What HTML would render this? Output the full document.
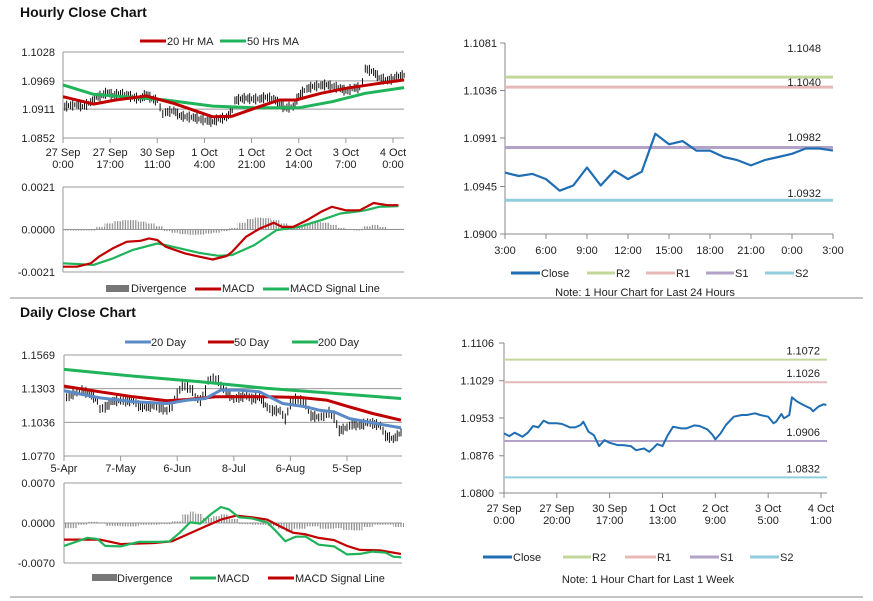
<!DOCTYPE html>
<html><head><meta charset="utf-8"><style>
html,body{margin:0;padding:0;background:#fff;}
svg{display:block;font-family:"Liberation Sans",sans-serif;}
text{font-size:11px;fill:#222;}
.t{font-size:14px;font-weight:bold;fill:#111;}
</style></head><body>
<svg id="s" width="873" height="601" viewBox="0 0 873 601">
<defs><pattern id="stripe" width="2.6" height="4" patternUnits="userSpaceOnUse"><rect x="0" y="0" width="1.2" height="4" fill="#8a8a8a"/></pattern></defs>
<text class="t" x="20" y="17">Hourly Close Chart</text>
<text class="t" x="20" y="317">Daily Close Chart</text>
<line x1="10" y1="298" x2="863" y2="298" stroke="#888" stroke-width="1"/>
<line x1="10" y1="597" x2="863" y2="597" stroke="#888" stroke-width="1"/>
<g>
<line x1="140" y1="41" x2="166" y2="41" stroke="#c00000" stroke-width="3"/><text x="167" y="45">20 Hr MA</text>
<line x1="220" y1="41" x2="246" y2="41" stroke="#1fb35a" stroke-width="3"/><text x="247" y="45">50 Hrs MA</text></g>
<g>
<rect x="106" y="285" width="23" height="7" fill="#777"/><text x="131" y="292">Divergence</text>
<line x1="195" y1="289" x2="221" y2="289" stroke="#c00000" stroke-width="3"/><text x="222" y="292">MACD</text>
<line x1="263" y1="289" x2="289" y2="289" stroke="#1fb35a" stroke-width="3"/><text x="290" y="292">MACD Signal Line</text></g>
<g>
<line x1="125" y1="342" x2="151" y2="342" stroke="#5b8ac6" stroke-width="3"/><text x="151" y="346">20 Day</text>
<line x1="208" y1="342" x2="234" y2="342" stroke="#c00000" stroke-width="3"/><text x="234" y="346">50 Day</text>
<line x1="292" y1="342" x2="318" y2="342" stroke="#1fb35a" stroke-width="3"/><text x="318" y="346">200 Day</text></g>
<g>
<rect x="92" y="574" width="25" height="7" fill="#777"/><text x="117" y="582">Divergence</text>
<line x1="190" y1="578" x2="216" y2="578" stroke="#1fb35a" stroke-width="3"/><text x="217" y="582">MACD</text>
<line x1="268" y1="578" x2="294" y2="578" stroke="#c00000" stroke-width="3"/><text x="295" y="582">MACD Signal Line</text></g>
<g>
<line x1="511" y1="273" x2="540" y2="273" stroke="#1f6db3" stroke-width="3"/><text x="541" y="277">Close</text>
<line x1="587" y1="273" x2="615" y2="273" stroke="#c4d79b" stroke-width="3"/><text x="616" y="277">R2</text>
<line x1="646" y1="273" x2="675" y2="273" stroke="#e6b9b8" stroke-width="3"/><text x="676" y="277">R1</text>
<line x1="706" y1="273" x2="734" y2="273" stroke="#b3a2c7" stroke-width="3"/><text x="735" y="277">S1</text>
<line x1="765" y1="273" x2="794" y2="273" stroke="#93cddd" stroke-width="3"/><text x="795" y="277">S2</text>
<text x="645" y="296" text-anchor="middle">Note: 1 Hour Chart for Last 24 Hours</text></g>
<g>
<line x1="483" y1="557" x2="512" y2="557" stroke="#1f6db3" stroke-width="3"/><text x="513" y="561">Close</text>
<line x1="563" y1="557" x2="591" y2="557" stroke="#c4d79b" stroke-width="3"/><text x="592" y="561">R2</text>
<line x1="625" y1="557" x2="656" y2="557" stroke="#e6b9b8" stroke-width="3"/><text x="657" y="561">R1</text>
<line x1="690" y1="557" x2="719" y2="557" stroke="#b3a2c7" stroke-width="3"/><text x="720" y="561">S1</text>
<line x1="750" y1="557" x2="779" y2="557" stroke="#93cddd" stroke-width="3"/><text x="780" y="561">S2</text>
<text x="648" y="583" text-anchor="middle">Note: 1 Hour Chart for Last 1 Week</text></g>
</svg>
<script>
// ---------- Hourly (top-left) ----------
const hrCloseHours = [0,2,5,7,10,12,14,16,18,20,23,25,28,30,32,34,35,36,37,40,42,44,47,49,52,54,56,59,61,62,64,66,68,71,73,76,78,80,83,85,87,88,90,93,95,97,100,102,105,107,108,109,112,114,117,119,121,123];
const hrClose = [1.09159,1.09194,1.09214,1.09173,1.09263,1.09366,1.0940,1.09469,1.0940,1.09434,1.09414,1.09366,1.09331,1.09434,1.09331,1.09297,1.09159,1.09022,1.09056,1.09091,1.08988,1.08967,1.08953,1.08919,1.08884,1.08864,1.08919,1.08953,1.09091,1.09297,1.09331,1.09345,1.09331,1.09331,1.09366,1.09331,1.09228,1.09146,1.09173,1.0940,1.09503,1.09538,1.09586,1.09606,1.0962,1.09586,1.09551,1.09489,1.09558,1.09558,1.09675,1.0995,1.09881,1.09764,1.09709,1.09744,1.09792,1.09813];
const hrMa20Hours = [0,11,19,30,40,54,61,69,78,84,93,102,112,123];
const hrMa20 = [1.09366,1.09214,1.09297,1.09379,1.09228,1.08953,1.08967,1.09125,1.09297,1.09297,1.09434,1.09538,1.0962,1.09709];
const hrMa50Hours = [0,11,25,37,54,69,85,97,109,123];
const hrMa50 = [1.09606,1.09414,1.09352,1.09297,1.09173,1.09139,1.09139,1.09263,1.09434,1.09551];
const hrPriceTicks = [1.0852,1.0911,1.0969,1.1028];
const hrTickHours = [0,17,34,51,68,85,102,119];
const hrTickLabels = [["27 Sep","0:00"],["27 Sep","17:00"],["30 Sep","11:00"],["1 Oct","4:00"],["1 Oct","21:00"],["2 Oct","14:00"],["3 Oct","7:00"],["4 Oct","0:00"]];
const hrMacdHours = [0,5,10,13,18,23,28,31,34,37,44,49,54,59,61,66,71,76,79,83,88,93,97,102,107,112,117,121];
const hrMacd = [-18.4,-18.4,-16.7,-13.4,-9.3,-6.1,-5.6,-4.4,-5.2,-8.5,-11.8,-13.4,-14.8,-13.1,-11.0,-3.6,0.5,3.3,1.3,1.3,4.6,8.7,11.2,9.5,9.5,13.1,12.0,12.0];
const hrSignalHours = [0,11,18,25,34,37,49,56,61,69,77,85,93,100,105,109,114,121];
const hrSignal = [-16.7,-17.5,-14.3,-10.2,-6.9,-7.7,-11.5,-13.0,-12.6,-7.7,-0.3,1.3,4.6,7.9,8.7,9.5,11.2,11.5];
const hrDiv = [-0.5,-0.5,-0.3,0,1.3,3.0,4.1,4.6,4.6,3.9,3.0,1.6,-0.8,-1.6,-2.3,-2.6,-2.5,-2.0,-1.6,-0.8,0.8,3.3,5.2,5.9,5.6,4.6,3.0,0.8,1.6,3.0,3.6,3.3,2.3,0.8,0.3,-0.5,1.6,2.3,1.3,0.3,0.3];
const hrMacdTicks = [-21,0,21];
const hrMacdTickLabels = ["-0.0021","0.0000","0.0021"];
// ---------- Daily (bottom-left) ----------
const dyCloseDays = [0,2,5,7,10,13,14,16,19,22,24,27,29,32,35,37,40,42,44,46,48,50,51,53,55,56,58,60,61,63,66,68,71,73,76,79,81,84,86,88,90,92,94,96,99,101,103,105,107,110,112,115,118,120,123,125,128,131];
const dyClose = [1.12251,1.12516,1.1278,1.12913,1.12648,1.12119,1.11457,1.1159,1.12087,1.12119,1.12087,1.12119,1.11722,1.1159,1.11722,1.1159,1.11325,1.11722,1.12648,1.13309,1.13177,1.12913,1.12383,1.12119,1.12913,1.13706,1.13839,1.13706,1.13309,1.1278,1.12251,1.12383,1.12516,1.12251,1.12383,1.1159,1.11325,1.11325,1.10664,1.11854,1.12251,1.12119,1.11854,1.10928,1.10796,1.10928,1.11193,1.10796,1.09737,1.10002,1.10267,1.10134,1.10399,1.1032,1.10134,1.0934,1.09076,1.09605];
const dyMa20Days = [0,14,27,40,48,55,61,68,76,85,94,99,105,111,120,131];
const dyMa20 = [1.1286,1.1230,1.1199,1.1185,1.1212,1.1225,1.1291,1.1291,1.1278,1.1185,1.1159,1.1133,1.1119,1.1066,1.1032,1.0992];
const dyMa50Days = [0,14,27,40,48,59,79,92,102,110,120,131];
const dyMa50 = [1.1323,1.1278,1.1238,1.1207,1.1217,1.1238,1.1238,1.1233,1.1212,1.1164,1.1106,1.1053];
const dyMa200Days = [0,27,53,79,105,131];
const dyMa200 = [1.1455,1.1402,1.1357,1.1305,1.1265,1.1225];
const dyPriceTicks = [1.0770,1.1036,1.1303,1.1569];
const dyTickDays = [0,22,44,66,88,110];
const dyTickLabels = ["5-Apr","7-May","6-Jun","8-Jul","6-Aug","5-Sep"];
const dyMacdDays = [0,9,13,16,22,29,37,41,45,49,53,57,61,64,68,73,79,83,86,90,94,99,105,110,115,120,125,128,131];
const dyMacd = [-4.0,-2.6,-2.8,-4.0,-4.1,-3.3,-3.3,-3.2,-1.7,0.1,-0.1,1.5,2.8,2.4,1.0,0.8,0.1,-1.7,-3.2,-2.4,-2.4,-3.8,-4.1,-5.5,-5.4,-5.0,-5.2,-5.9,-6.0];
const dySignalDays = [0,14,22,35,42,48,55,61,67,73,79,84,89,94,99,105,110,115,123,131];
const dySignal = [-2.9,-2.9,-3.7,-3.5,-3.2,-2.0,-0.6,0.6,1.3,1.0,0.6,-0.6,-1.7,-2.0,-2.6,-3.0,-4.0,-4.7,-4.8,-5.4];
const dyDivDays = [0,5,9,13,16,22,29,37,42,46,49,51,54,58,61,64,68,73,79,83,86,89,94,99,105,108,112,116,120,124,128,131];
const dyDiv = [-0.9,-0.3,0.2,0.1,-0.5,-0.6,-0.3,-0.2,0.3,1.5,2.0,1.6,0.9,1.2,1.5,0.7,-0.2,-0.3,-0.5,-1.0,-1.5,-1.0,-0.6,-1.0,-0.9,-1.2,-1.3,-0.7,-0.3,-0.3,-0.7,-0.7];
const dyMacdTicks = [-7,0,7];
const dyMacdTickLabels = ["-0.0070","0.0000","0.0070"];
// ---------- 24 hour (top-right) ----------
const h24Close = [1.09582,1.0955,1.0957,1.0952,1.0941,1.0946,1.0963,1.0946,1.0960,1.0952,1.0959,1.0995,1.0985,1.0988,1.0979,1.0979,1.0973,1.0970,1.0965,1.0970,1.0973,1.0976,1.0981,1.0981,1.0979];
const h24Levels = [1.10487,1.10392,1.0982,1.0932];
const h24LevelLabels = ["1.1048","1.1040","1.0982","1.0932"];
const h24PriceTicks = [1.0900,1.0945,1.0991,1.1036,1.1081];
const h24TickLabels = ["3:00","6:00","9:00","12:00","15:00","18:00","21:00","0:00","3:00"];
// ---------- 1 week (bottom-right) ----------
const wkHours = [0,2,4,7,9,11,13,15,17,20,22,25,27,29,30,32,34,36,38,40,43,45,48,50,53,55,57,58,60,62,64,67,69,72,74,77,79,80,82,84,87,90,92,95,97,100,102,103,105,106,108,109,111,114,116,117,119,121,122];
const wkClose = [1.09216,1.09161,1.0923,1.09148,1.0923,1.09366,1.09339,1.09475,1.09421,1.09421,1.09407,1.09339,1.09339,1.09387,1.09455,1.0925,1.09182,1.08956,1.09079,1.09025,1.08977,1.08977,1.08956,1.08874,1.08908,1.0884,1.08943,1.08997,1.08956,1.09182,1.09352,1.09318,1.09318,1.0938,1.09366,1.09298,1.09182,1.09093,1.09216,1.09387,1.09557,1.09591,1.09591,1.09625,1.09591,1.09557,1.09421,1.09455,1.09612,1.09523,1.09591,1.09953,1.09865,1.09776,1.09728,1.09666,1.09762,1.0981,1.09796];
const wkLevels = [1.1072,1.1026,1.0906,1.0832];
const wkLevelLabels = ["1.1072","1.1026","1.0906","1.0832"];
const wkPriceTicks = [1.0800,1.0876,1.0953,1.1029,1.1106];
const wkTickHours = [0,20,40,60,80,100,120];
const wkTickLabels = [["27 Sep","0:00"],["27 Sep","20:00"],["30 Sep","17:00"],["1 Oct","13:00"],["2 Oct","9:00"],["3 Oct","5:00"],["4 Oct","1:00"]];
const levelColors = ["#c4d79b","#e6b9b8","#b3a2c7","#93cddd"];
const levelNames = ["r2-line","r1-line","s1-line","s2-line"];

const S = document.getElementById('s');
const NS = 'http://www.w3.org/2000/svg';
function mk(tag, attrs, name, parent) {
  const el = document.createElementNS(NS, tag);
  for (const k in attrs) el.setAttribute(k, attrs[k]);
  
  
  (parent || S).appendChild(el);
  return el;
}
function txt(x, y, s, anchor, name, parent) {
  const t = mk('text', {x: x, y: y, 'text-anchor': anchor}, name, parent);
  t.textContent = s;
  return t;
}
function lin(d0, d1, r0, r1) { return v => r0 + (v - d0) * (r1 - r0) / (d1 - d0); }
function poly(xs, ys, fx, fy, color, w, name) {
  const pts = xs.map((x, i) => fx(x).toFixed(1) + ',' + fy(ys[i]).toFixed(1)).join(' ');
  return mk('polyline', {points: pts, fill: 'none', stroke: color, 'stroke-width': w, 'stroke-linejoin': 'round'}, name);
}
function gridY(ticks, labels, fy, x0, x1, lx, name) {
  ticks.forEach((t, i) => {
    mk('line', {x1: x0, x2: x1, y1: fy(t), y2: fy(t), stroke: '#999', 'stroke-width': 1}, name + '-gridline');
    txt(lx, fy(t) + 4, labels[i], 'end', name + '-tick-label');
  });
}
function bars(xs, ys, fx, fy, name) {
  for (let i = 1; i < xs.length; i++) {
    const xa = fx(xs[i - 1]), xb = fx(xs[i]);
    const ya = fy(ys[i - 1]), yb = fy(ys[i]);
    const n = Math.max(1, Math.round((xb - xa) / 2.2));
    for (let k = 1; k <= n; k++) {
      const x = xa + (xb - xa) * k / n;
      const y = ya + (yb - ya) * k / n;
      const h = 2 + (k % 3) * 1.5;
      mk('line', {x1: x.toFixed(1), x2: x.toFixed(1), y1: (y - h).toFixed(1), y2: (y + h + 1).toFixed(1), stroke: '#111', 'stroke-width': 1}, name);
    }
  }
}
function divBars(xs, vs, fx, fy, name, stepPx) {
  xs.forEach((x, i) => {
    const xa = fx(x);
    const xb = i < xs.length - 1 ? fx(xs[i + 1]) : xa + stepPx;
    const y0 = fy(0), y1 = fy(vs[i]);
    mk('rect', {x: xa, y: Math.min(y0, y1), width: Math.max(1, xb - xa), height: Math.max(1, Math.abs(y1 - y0)), fill: 'url(#stripe)'}, name);
  });
}

// Hourly price
{
  const fx = lin(0, 119, 63, 393), fy = lin(1.0852, 1.1028, 138, 52);
  gridY(hrPriceTicks, hrPriceTicks.map(v => v.toFixed(4)), fy, 63, 404, 55, 'hourly-price-y');
  mk('line', {x1: 63, x2: 63, y1: 52, y2: 138, stroke: '#999'}, 'hourly-price-y-axis');
  hrTickHours.forEach((h, i) => {
    mk('line', {x1: fx(h), x2: fx(h), y1: 138, y2: 143, stroke: '#999'}, 'hourly-x-tick');
    txt(fx(h), 156, hrTickLabels[i][0], 'middle', 'hourly-x-label');
    txt(fx(h), 168, hrTickLabels[i][1], 'middle', 'hourly-x-label');
  });
  bars(hrCloseHours, hrClose, fx, fy, 'hourly-price-bar');
  poly(hrMa50Hours, hrMa50, fx, fy, '#1fb35a', 3, 'hourly-50ma-line');
  poly(hrMa20Hours, hrMa20, fx, fy, '#c00000', 3, 'hourly-20ma-line');
}
// Hourly MACD
{
  const fx = lin(0, 119, 63, 393), fy = lin(-21, 21, 272, 187);
  gridY(hrMacdTicks, hrMacdTickLabels, fy, 63, 404, 55, 'hourly-macd-y');
  mk('line', {x1: 63, x2: 63, y1: 187, y2: 272, stroke: '#999'}, 'hourly-macd-y-axis');
  divBars(hrDiv.map((v, i) => i * 3), hrDiv, fx, fy, 'hourly-divergence-bar', 8);
  poly(hrSignalHours, hrSignal, fx, fy, '#1fb35a', 2.2, 'hourly-signal-line');
  poly(hrMacdHours, hrMacd, fx, fy, '#c00000', 2.2, 'hourly-macd-line');
}
// Daily price
{
  const fx = lin(0, 110, 64, 347), fy = lin(1.0770, 1.1569, 456, 355);
  gridY(dyPriceTicks, dyPriceTicks.map(v => v.toFixed(4)), fy, 64, 402, 55, 'daily-price-y');
  mk('line', {x1: 64, x2: 64, y1: 355, y2: 456, stroke: '#999'}, 'daily-price-y-axis');
  dyTickDays.forEach((d, i) => {
    mk('line', {x1: fx(d), x2: fx(d), y1: 456, y2: 461, stroke: '#999'}, 'daily-x-tick');
    txt(fx(d), 472, dyTickLabels[i], 'middle', 'daily-x-label');
  });
  bars(dyCloseDays, dyClose, fx, fy, 'daily-price-bar');
  poly(dyMa200Days, dyMa200, fx, fy, '#1fb35a', 3, 'daily-200ma-line');
  poly(dyMa50Days, dyMa50, fx, fy, '#c00000', 3, 'daily-50ma-line');
  poly(dyMa20Days, dyMa20, fx, fy, '#5b8ac6', 3, 'daily-20ma-line');
}
// Daily MACD
{
  const fx = lin(0, 110, 64, 347), fy = lin(-7, 7, 563, 483);
  gridY(dyMacdTicks, dyMacdTickLabels, fy, 64, 402, 55, 'daily-macd-y');
  mk('line', {x1: 64, x2: 64, y1: 483, y2: 563, stroke: '#999'}, 'daily-macd-y-axis');
  divBars(dyDivDays, dyDiv, fx, fy, 'daily-divergence-bar', 3);
  poly(dySignalDays, dySignal, fx, fy, '#c00000', 2.2, 'daily-signal-line');
  poly(dyMacdDays, dyMacd, fx, fy, '#1fb35a', 2.2, 'daily-macd-line');
}
// 24h chart
{
  const fx = lin(0, 24, 505, 833), fy = lin(1.0900, 1.1081, 234, 43);
  mk('line', {x1: 505, x2: 505, y1: 43, y2: 234, stroke: '#888'}, 'h24-y-axis');
  mk('line', {x1: 505, x2: 833, y1: 234, y2: 234, stroke: '#888'}, 'h24-x-axis');
  h24PriceTicks.forEach(t => {
    mk('line', {x1: 500, x2: 505, y1: fy(t), y2: fy(t), stroke: '#888'}, 'h24-y-tick');
    txt(497, fy(t) + 4, t.toFixed(4), 'end', 'h24-y-label');
  });
  h24TickLabels.forEach((l, i) => {
    const x = fx(i * 3);
    mk('line', {x1: x, x2: x, y1: 234, y2: 239, stroke: '#888'}, 'h24-x-tick');
    txt(x, 254, l, 'middle', 'h24-x-label');
  });
  const lblY = [52, 86, 141, 197];
  h24Levels.forEach((v, i) => {
    mk('line', {x1: 505, x2: 833, y1: fy(v), y2: fy(v), stroke: levelColors[i], 'stroke-width': 3}, 'h24-' + levelNames[i]);
    txt(821, lblY[i], h24LevelLabels[i], 'end', 'h24-level-label');
  });
  poly(h24Close.map((v, i) => i), h24Close, fx, fy, '#1f6db3', 2.2, 'h24-close-line');
}
// Week chart
{
  const fx = lin(0, 120, 504, 821), fy = lin(1.0800, 1.1106, 493, 343);
  mk('line', {x1: 504, x2: 504, y1: 343, y2: 493, stroke: '#888'}, 'week-y-axis');
  mk('line', {x1: 504, x2: 827, y1: 493, y2: 493, stroke: '#888'}, 'week-x-axis');
  wkPriceTicks.forEach(t => {
    mk('line', {x1: 499, x2: 504, y1: fy(t), y2: fy(t), stroke: '#888'}, 'week-y-tick');
    txt(494, fy(t) + 4, t.toFixed(4), 'end', 'week-y-label');
  });
  wkTickHours.forEach((h, i) => {
    const x = fx(h);
    mk('line', {x1: x, x2: x, y1: 493, y2: 498, stroke: '#888'}, 'week-x-tick');
    txt(x, 512, wkTickLabels[i][0], 'middle', 'week-x-label');
    txt(x, 524, wkTickLabels[i][1], 'middle', 'week-x-label');
  });
  wkLevels.forEach((v, i) => {
    mk('line', {x1: 504, x2: 827, y1: fy(v), y2: fy(v), stroke: levelColors[i], 'stroke-width': 2}, 'week-' + levelNames[i]);
    txt(820, fy(v) - 5, wkLevelLabels[i], 'end', 'week-level-label');
  });
  poly(wkHours, wkClose, fx, fy, '#1f6db3', 2, 'week-close-line');
}
</script>
</body></html>
